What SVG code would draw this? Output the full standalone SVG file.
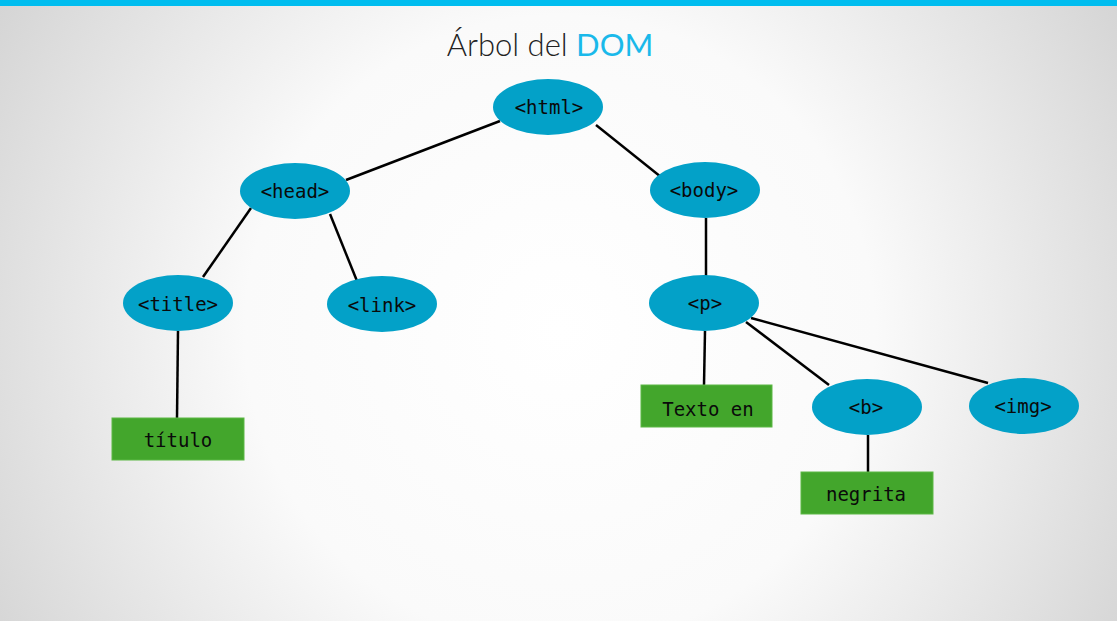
<svg xmlns="http://www.w3.org/2000/svg" width="1117" height="621" viewBox="0 0 1117 621">
<defs>
<radialGradient id="bg" cx="560" cy="330" r="700" gradientUnits="userSpaceOnUse">
<stop offset="0" stop-color="#ffffff"/>
<stop offset="0.45" stop-color="#fafafa"/>
<stop offset="1" stop-color="#cfcfcf"/>
</radialGradient>
<style>
.el{fill:#03a1c8;}
.rc{fill:#43a62c;stroke:#5cb845;stroke-width:1;}
.t{font-family:"DejaVu Sans Mono","Liberation Mono",monospace;font-size:19px;fill:#0a0a0a;text-anchor:middle;dominant-baseline:central;}
.ln{stroke:#000;stroke-width:2.5;fill:none;}
</style>
</defs>
<rect width="1117" height="621" fill="url(#bg)"/>
<rect width="1117" height="6" fill="#00bdef"/>
<text x="550" y="56" font-family="Lato,'Open Sans',sans-serif" font-weight="300" font-size="31" text-anchor="middle" fill="#222">Árbol del <tspan fill="#1ab9ea" font-weight="400">DOM</tspan></text>
<g id="connectors">
<line class="ln" x1="500" y1="121" x2="346" y2="180"/>
<line class="ln" x1="596" y1="125" x2="661" y2="177"/>
<line class="ln" x1="251" y1="208" x2="203" y2="277"/>
<line class="ln" x1="330" y1="214" x2="357" y2="281"/>
<line class="ln" x1="178" y1="331" x2="177" y2="418"/>
<line class="ln" x1="706" y1="218" x2="706" y2="277"/>
<line class="ln" x1="705" y1="331" x2="704" y2="385"/>
<line class="ln" x1="746" y1="322" x2="829" y2="385"/>
<line class="ln" x1="751" y1="318" x2="988" y2="383"/>
<line class="ln" x1="868" y1="435" x2="868" y2="472"/>
</g>
<g id="html"><ellipse class="el" cx="548" cy="107" rx="55" ry="28"/><text class="t" x="549" y="107">&lt;html&gt;</text></g>
<g id="head"><ellipse class="el" cx="295" cy="191" rx="55" ry="28"/><text class="t" x="295" y="191">&lt;head&gt;</text></g>
<g id="body"><ellipse class="el" cx="705" cy="190" rx="55" ry="28"/><text class="t" x="704" y="190">&lt;body&gt;</text></g>
<g id="title"><ellipse class="el" cx="178" cy="303" rx="55" ry="28"/><text class="t" x="178" y="304">&lt;title&gt;</text></g>
<g id="link"><ellipse class="el" cx="382" cy="304" rx="55" ry="28"/><text class="t" x="382" y="305">&lt;link&gt;</text></g>
<g id="p"><ellipse class="el" cx="704" cy="303" rx="55" ry="28"/><text class="t" x="705" y="303">&lt;p&gt;</text></g>
<g id="b"><ellipse class="el" cx="867" cy="407" rx="55" ry="28"/><text class="t" x="866" y="407">&lt;b&gt;</text></g>
<g id="img"><ellipse class="el" cx="1024" cy="406" rx="55" ry="28"/><text class="t" x="1023" y="406">&lt;img&gt;</text></g>
<g id="titulo"><rect class="rc" x="112" y="418" width="132" height="42"/><text class="t" x="178" y="440">título</text></g>
<g id="texto"><rect class="rc" x="641" y="385" width="131" height="42"/><text class="t" x="708" y="409">Texto en</text></g>
<g id="negrita"><rect class="rc" x="801" y="472" width="132" height="42"/><text class="t" x="866" y="494">negrita</text></g>
</svg>
